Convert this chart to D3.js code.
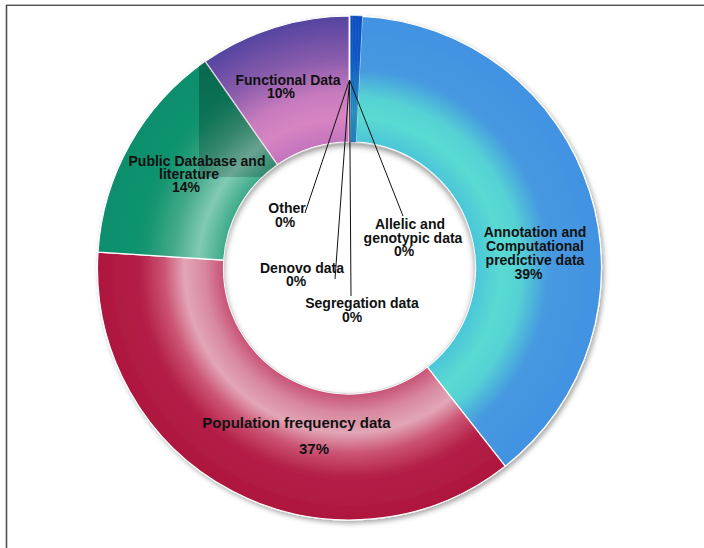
<!DOCTYPE html>
<html>
<head>
<meta charset="utf-8">
<script src="https://cdn.jsdelivr.net/npm/d3@7"></script>
<style>
  html, body { margin: 0; padding: 0; background: #fff; }
  svg { display: block; }
  text { font-family: "Liberation Sans", Arial, Helvetica, sans-serif; font-weight: bold; fill: #111; }
</style>
</head>
<body>
<svg id="chart" width="704" height="548"></svg>
<script>
// Evidence sources, clockwise from 12 o'clock
const categories = [
  "Allelic and genotypic data",
  "Segregation data",
  "Denovo data",
  "Other",
  "Annotation and Computational predictive data",
  "Population frequency data",
  "Public Database and literature",
  "Functional Data"
];
// Share of evidence (percent before rounding)
const shares = [0.2, 0.2, 0.2, 0.2, 38.6, 36.6, 14.3, 9.7];
// Label text, split into lines
const labelLines = [
  ["Allelic and", "genotypic data"],
  ["Segregation data"],
  ["Denovo data"],
  ["Other"],
  ["Annotation and", "Computational", "predictive data"],
  ["Population frequency data"],
  ["Public Database and", "literature"],
  ["Functional Data"]
];

// ---- styling and layout ----
const W = 704, H = 548;
const cx = 349.5, cy = 268;
const R = 252, r0 = 126;

// radial gradient stops per slice: [offset, colour]
const thinShade = [[0.5, "#1f8fb4"], [0.62, "#2aa4b8"], [0.72, "#1a7cc0"], [0.84, "#0e56c6"], [1, "#0a4ec2"]];
const sliceShades = [
  thinShade, thinShade, thinShade, thinShade,
  [[0.5, "#4ac6d8"], [0.6, "#5adad2"], [0.68, "#55d2d4"], [0.79, "#4699e0"], [1, "#4292e2"]],
  [[0.5, "#c85276"], [0.575, "#d8889e"], [0.655, "#e2a6b6"], [0.735, "#cc5474"], [0.83, "#b42048"], [1, "#ae163e"]],
  [[0.5, "#3caa8a"], [0.6, "#82cab4"], [0.7, "#44aa8a"], [0.82, "#12946f"], [1, "#0c8e6c"]],
  [[0.5, "#c474be"], [0.6, "#d884c2"], [0.7, "#c67abd"], [0.83, "#8a5cac"], [1, "#5444a0"]]
];

// label placement: centre x per line, centre y per line (percent line last)
const labelLayout = [
  { xs: [410, 413, 404], ys: [224, 238, 251], size: 14, lead: [403, 216] },
  { xs: [362, 352], ys: [303, 317], size: 14, lead: [351, 296] },
  { xs: [302, 296], ys: [268, 281], size: 14, lead: [335, 279] },
  { xs: [287, 285], ys: [208, 222], size: 14, lead: [305, 213] },
  { xs: [535, 535, 535, 528.5], ys: [232, 246, 260, 274], size: 14 },
  { xs: [296.5, 314], ys: [423, 449], size: 15 },
  { xs: [197, 189, 186], ys: [161, 174, 187], size: 14 },
  { xs: [288, 281], ys: [79.5, 93], size: 14 }
];

const svg = d3.select("#chart");
svg.append("rect").attr("width", W).attr("height", H).attr("fill", "#fff");

// frame
svg.append("line").attr("x1", 6).attr("x2", W).attr("y1", 4.5).attr("y2", 4.5)
  .attr("stroke", "#b8b8b8").attr("stroke-width", 1);
svg.append("line").attr("x1", 6).attr("x2", W).attr("y1", 5.5).attr("y2", 5.5)
  .attr("stroke", "#505050").attr("stroke-width", 1.2);
svg.append("line").attr("x1", 6.5).attr("x2", 6.5).attr("y1", 5).attr("y2", H)
  .attr("stroke", "#505050").attr("stroke-width", 1.6);

const defs = svg.append("defs");

const shadow = defs.append("filter").attr("id", "ringShadow")
  .attr("x", "-10%").attr("y", "-10%").attr("width", "120%").attr("height", "120%");
shadow.append("feDropShadow").attr("dx", 2).attr("dy", 2.5).attr("stdDeviation", 2.5)
  .attr("flood-color", "#000").attr("flood-opacity", 0.35);

const blur = defs.append("filter").attr("id", "soft")
  .attr("x", "-20%").attr("y", "-20%").attr("width", "140%").attr("height", "140%");
blur.append("feGaussianBlur").attr("stdDeviation", 3);

sliceShades.forEach((stops, i) => {
  const g = defs.append("radialGradient").attr("id", "shade" + i)
    .attr("gradientUnits", "userSpaceOnUse")
    .attr("cx", 0).attr("cy", 0).attr("r", R);
  stops.forEach(([o, c]) => g.append("stop").attr("offset", o).attr("stop-color", c));
});

const total = d3.sum(shares);
const pie = d3.pie().sort(null).value(d => d).startAngle(0).endAngle(2 * Math.PI);
const arcs = pie(shares);
const arc = d3.arc().innerRadius(r0).outerRadius(R);
const isThin = d => !!labelLayout[d.index].lead;

const root = svg.append("g").attr("transform", `translate(${cx},${cy})`);
const ring = root.append("g").attr("filter", "url(#ringShadow)");

// main slices with white separators
ring.selectAll("path.slice")
  .data(arcs.filter(d => !isThin(d)))
  .join("path")
  .attr("class", "slice")
  .attr("d", arc)
  .attr("fill", d => `url(#shade${d.index})`)
  .attr("stroke", "#fff")
  .attr("stroke-width", 1.2)
  .attr("stroke-linejoin", "round");

// thin slices drawn as one continuous strip
ring.selectAll("path.thin")
  .data(arcs.filter(isThin))
  .join("path")
  .attr("class", "thin")
  .attr("d", arc)
  .attr("fill", d => `url(#shade${d.index})`)
  .attr("stroke", d => sliceShades[d.index][3][1])
  .attr("stroke-width", 0.4);

const tiny = arcs.filter(isThin);
const stripStart = d3.min(tiny, d => d.startAngle);
const sepIn = d3.pointRadial(stripStart, r0), sepOut = d3.pointRadial(stripStart, R + 0.5);
ring.append("line")
  .attr("x1", sepIn[0]).attr("y1", sepIn[1]).attr("x2", sepOut[0]).attr("y2", sepOut[1])
  .attr("stroke", "#fff").attr("stroke-width", 1.8);

// darker shading panel inside the literature slice
const litIdx = 6;
defs.append("clipPath").attr("id", "litClip")
  .append("path").attr("d", arc(arcs[litIdx]));
const panelShade = defs.append("linearGradient").attr("id", "panelShade")
  .attr("x1", 0).attr("y1", 0).attr("x2", 0).attr("y2", 1);
panelShade.append("stop").attr("offset", 0).attr("stop-color", "#000").attr("stop-opacity", 0.3);
panelShade.append("stop").attr("offset", 1).attr("stop-color", "#000").attr("stop-opacity", 0.18);
root.append("rect")
  .attr("clip-path", "url(#litClip)")
  .attr("x", -150.5).attr("y", -R)
  .attr("width", 150.5).attr("height", R - 91)
  .attr("fill", "url(#panelShade)");

// hole with an inner shadow along its upper rim
defs.append("clipPath").attr("id", "holeClip")
  .append("circle").attr("r", r0 - 0.6);
root.append("circle").attr("r", r0 - 0.6).attr("fill", "#fff");
root.append("g").attr("clip-path", "url(#holeClip)")
  .append("circle")
  .attr("cy", 3.5).attr("r", r0 + 5)
  .attr("fill", "none").attr("stroke", "#000").attr("stroke-opacity", 0.45)
  .attr("stroke-width", 10).attr("filter", "url(#soft)");
root.append("circle").attr("r", r0 - 0.6).attr("fill", "none")
  .attr("stroke", "#d8d8d8").attr("stroke-width", 0.8);

// leader lines for the thin slices
const apex = d3.pointRadial(stripStart, (r0 + R) / 2 - 1);
svg.append("g").selectAll("line")
  .data(tiny)
  .join("line")
  .attr("x1", cx + apex[0]).attr("y1", cy + apex[1])
  .attr("x2", d => labelLayout[d.index].lead[0])
  .attr("y2", d => labelLayout[d.index].lead[1])
  .attr("stroke", "#111").attr("stroke-width", 1);

// labels
const labels = svg.append("g");
arcs.forEach(d => {
  const i = d.index;
  const lay = labelLayout[i];
  const pct = Math.round(d.value / total * 100) + "%";
  const lines = labelLines[i].concat([pct]);
  lines.forEach((t, k) => {
    labels.append("text")
      .attr("x", lay.xs[k]).attr("y", lay.ys[k])
      .attr("dy", "0.36em")
      .attr("text-anchor", "middle")
      .attr("font-size", lay.size)
      .text(t);
  });
});
</script>
</body>
</html>
